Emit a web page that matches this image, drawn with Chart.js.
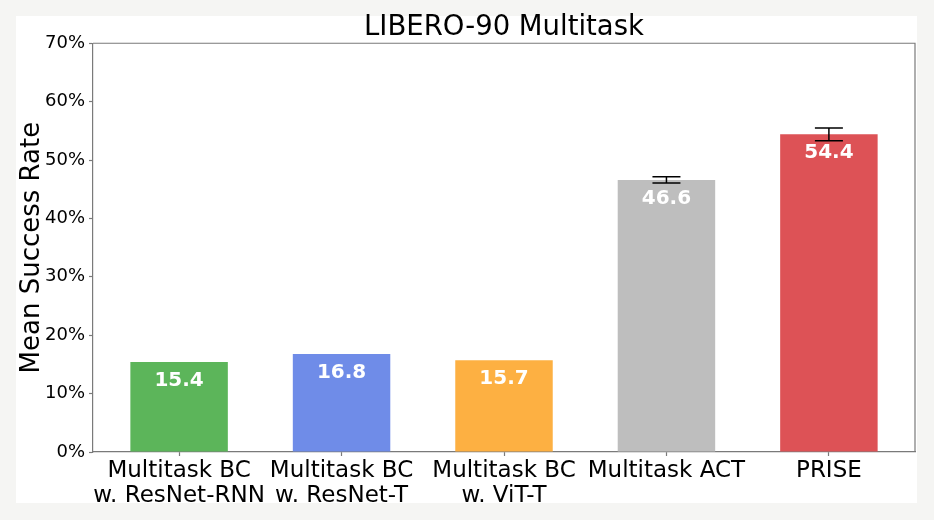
<!DOCTYPE html>
<html>
<head>
<meta charset="utf-8">
<script src="https://cdn.jsdelivr.net/npm/chart.js@4/dist/chart.umd.min.js"></script>
<style>
  html, body { margin: 0; padding: 0; background: rgb(245,245,243); }
  #wrap { width: 934px; height: 520px; }
</style>
</head>
<body>
<div id="wrap"><canvas id="c" width="934" height="520"></canvas></div>
<script>
const categories = [
  ['Multitask BC', 'w. ResNet-RNN'],
  ['Multitask BC', 'w. ResNet-T'],
  ['Multitask BC', 'w. ViT-T'],
  'Multitask ACT',
  'PRISE'
];
const successRates = [15.4, 16.8, 15.7, 46.6, 54.4];
const errorValues = [0, 0, 0, 0.55, 1.1];
const valueLabels = ['15.4', '16.8', '15.7', '46.6', '54.4'];
const barColors = ['#5cb55a', '#6f8ce8', '#fdb042', '#bebebe', '#dd5256'];
const yTickValues = [0, 10, 20, 30, 40, 50, 60, 70];

const FONT = "'DejaVu Sans', sans-serif";
const AXIS_GRAY = '#7a7a7a';

Chart.defaults.color = '#000';
Chart.defaults.font.family = FONT;

const cardPlugin = {
  id: 'card',
  beforeDraw(chart) {
    const ctx = chart.ctx;
    ctx.save();
    ctx.fillStyle = 'rgb(245,245,243)';
    ctx.fillRect(0, 0, chart.width, chart.height);
    ctx.fillStyle = '#ffffff';
    ctx.fillRect(16, 16, 901, 487);
    ctx.restore();
  }
};

const overlayPlugin = {
  id: 'overlay',
  afterDatasetsDraw(chart) {
    const ctx = chart.ctx;
    const xs = chart.scales.x, ys = chart.scales.y;
    const a = chart.chartArea;
    ctx.save();
    ctx.strokeStyle = AXIS_GRAY;
    ctx.lineWidth = 1.2;
    ctx.beginPath();
    ctx.moveTo(a.left, a.top);
    ctx.lineTo(a.right, a.top);
    ctx.lineTo(a.right, a.bottom);
    ctx.stroke();
    ctx.strokeStyle = '#000';
    ctx.lineWidth = 1.5;
    successRates.forEach((v, i) => {
      const e = errorValues[i];
      if (!e) return;
      const x = xs.getPixelForValue(i);
      const y1 = ys.getPixelForValue(v + e);
      const y2 = ys.getPixelForValue(v - e);
      const cap = 14;
      ctx.beginPath();
      ctx.moveTo(x, y1); ctx.lineTo(x, y2);
      ctx.moveTo(x - cap, y1); ctx.lineTo(x + cap, y1);
      ctx.moveTo(x - cap, y2); ctx.lineTo(x + cap, y2);
      ctx.stroke();
    });
    ctx.fillStyle = '#ffffff';
    ctx.font = "bold 20px " + FONT;
    ctx.textAlign = 'center';
    ctx.textBaseline = 'middle';
    successRates.forEach((v, i) => {
      const x = xs.getPixelForValue(i);
      const y = ys.getPixelForValue(v) + 18.5;
      ctx.fillText(valueLabels[i], x, y);
    });
    ctx.restore();
  }
};

new Chart(document.getElementById('c'), {
  type: 'bar',
  data: {
    datasets: [{
      data: successRates.map((v, i) => ({ x: i, y: v })),
      backgroundColor: barColors,
      borderWidth: 0,
      barPercentage: 0.6,
      categoryPercentage: 1.0
    }]
  },
  options: {
    responsive: false,
    animation: false,
    layout: { padding: { left: 0, right: 19, top: 0, bottom: 0 } },
    plugins: {
      legend: { display: false },
      tooltip: { enabled: false },
      title: {
        display: true,
        fullSize: false,
        text: 'LIBERO-90 Multitask',
        color: '#000',
        font: { family: FONT, size: 27.5, weight: 'normal', lineHeight: 1.1 },
        padding: { top: 13, bottom: 0 }
      }
    },
    scales: {
      x: {
        type: 'linear',
        offset: false,
        min: -0.53,
        max: 4.53,
        afterBuildTicks(s) { s.ticks = categories.map((_, i) => ({ value: i })); },
        afterFit(s) { s.height = 68; },
        grid: { offset: false, drawOnChartArea: false, drawTicks: true, tickLength: 4, tickColor: AXIS_GRAY, tickWidth: 1.2 },
        border: { display: true, color: AXIS_GRAY, width: 1.2 },
        ticks: {
          autoSkip: false,
          maxRotation: 0,
          minRotation: 0,
          padding: 2,
          color: '#000',
          font: { family: FONT, size: 23, lineHeight: 1.1 },
          callback: (v) => categories[v]
        }
      },
      y: {
        min: 0,
        max: 70,
        afterBuildTicks(s) { s.ticks = yTickValues.map(v => ({ value: v })); },
        afterFit(s) { s.width = 93; },
        grid: { drawOnChartArea: false, drawTicks: true, tickLength: 4, tickColor: AXIS_GRAY, tickWidth: 1.2 },
        border: { display: true, color: AXIS_GRAY, width: 1.2 },
        ticks: {
          padding: 4,
          color: '#000',
          font: { family: FONT, size: 18 },
          callback: (v) => v + '%'
        },
        title: {
          display: true,
          text: 'Mean Success Rate',
          color: '#000',
          font: { family: FONT, size: 26, lineHeight: 1.2 },
          padding: { top: 17, bottom: 0 }
        }
      }
    }
  },
  plugins: [cardPlugin, overlayPlugin]
});
</script>
</body>
</html>
